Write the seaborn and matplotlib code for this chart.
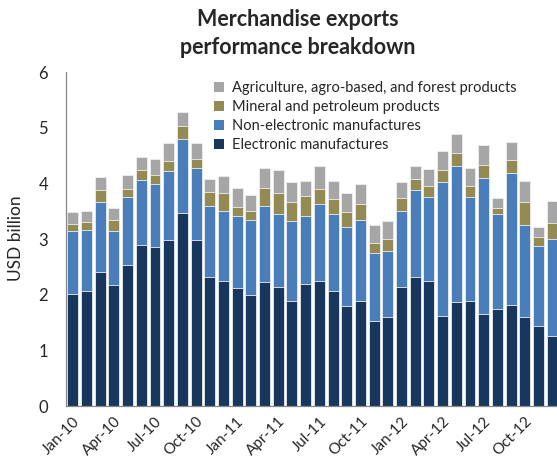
import matplotlib
matplotlib.use("Agg")
import matplotlib.pyplot as plt
from matplotlib.patches import Patch
import numpy as np
import pandas as pd
import seaborn as sns

# Monthly export values, USD billion (Jan-10 .. Dec-12)
months = pd.date_range("2010-01-01", "2012-12-01", freq="MS").strftime("%b-%y").tolist()

electronic = [2.02, 2.06, 2.41, 2.18, 2.54, 2.90, 2.86, 2.99, 3.47, 2.98, 2.32, 2.25,
              2.12, 2.00, 2.23, 2.14, 1.88, 2.20, 2.25, 2.07, 1.80, 1.89, 1.52, 1.59,
              2.14, 2.32, 2.25, 1.62, 1.86, 1.88, 1.66, 1.75, 1.82, 1.59, 1.44, 1.25]
non_electronic = [1.13, 1.11, 1.25, 0.97, 1.21, 1.16, 1.13, 1.24, 1.32, 1.29, 1.28, 1.25,
                  1.30, 1.35, 1.37, 1.31, 1.44, 1.21, 1.37, 1.38, 1.41, 1.46, 1.22, 1.19,
                  1.37, 1.56, 1.51, 2.41, 2.45, 1.87, 2.43, 1.70, 2.36, 1.67, 1.44, 1.75]
mineral = [0.12, 0.13, 0.22, 0.19, 0.15, 0.18, 0.16, 0.17, 0.24, 0.17, 0.24, 0.32,
           0.16, 0.16, 0.32, 0.38, 0.35, 0.36, 0.28, 0.26, 0.28, 0.28, 0.19, 0.22,
           0.22, 0.20, 0.19, 0.21, 0.23, 0.21, 0.24, 0.10, 0.24, 0.41, 0.16, 0.29]
agriculture = [0.21, 0.20, 0.23, 0.21, 0.25, 0.24, 0.28, 0.32, 0.26, 0.29, 0.23, 0.31,
               0.34, 0.28, 0.35, 0.41, 0.35, 0.28, 0.41, 0.34, 0.33, 0.36, 0.33, 0.33,
               0.30, 0.23, 0.30, 0.34, 0.34, 0.31, 0.36, 0.19, 0.33, 0.38, 0.17, 0.39]

series_names = ["Electronic manufactures", "Non-electronic manufactures",
                "Mineral and petroleum products", "Agriculture, agro-based, and forest products"]
colors = ["#17375E", "#4A7EBB", "#948A54", "#A6A6A6"]

df = pd.DataFrame({"month": months,
                   series_names[0]: electronic,
                   series_names[1]: non_electronic,
                   series_names[2]: mineral,
                   series_names[3]: agriculture})

sns.set_style("white")
plt.rcParams["font.family"] = ["Lato", "DejaVu Sans"]

fig = plt.figure(figsize=(5.57, 4.69), dpi=100)
ax = fig.add_axes([66 / 557, 63 / 469, 493 / 557, 334 / 469])

# Stack by drawing cumulative totals, tallest layer first
cum = df[series_names].cumsum(axis=1)
for name, col in reversed(list(zip(series_names, colors))):
    sns.barplot(x=df["month"], y=cum[name], color=col, saturation=1, width=0.8,
                edgecolor="#EEEEEE", linewidth=0.6, ax=ax, order=months)

ax.set_xlim(-0.5, len(months) - 0.5)
ax.set_ylim(0, 6)
ax.set_yticks(range(0, 7))
ax.set_xlabel("")
ax.set_ylabel("")
fig.text(16 / 557, 1 - 238 / 469, "USD billion", rotation=90, ha="center", va="center",
         fontsize=12.5)

# Labels on quarters, tick marks between months at quarter boundaries
label_pos = list(range(0, len(months), 3))
ax.set_xticks(label_pos)
ax.set_xticklabels([months[i] for i in label_pos], rotation=45, ha="right",
                   rotation_mode="anchor", fontsize=11)
ax.set_xticks([p - 0.5 for p in label_pos] + [len(months) - 0.5], minor=True)
ax.tick_params(axis="x", which="major", length=0, pad=6)
ax.tick_params(axis="x", which="minor", length=4, color="#888888", width=0.8)
ax.tick_params(axis="y", length=4, color="#888888", width=0.8, labelsize=12, pad=9)

for side in ["top", "right"]:
    ax.spines[side].set_visible(False)
for side in ["left", "bottom"]:
    ax.spines[side].set_color("#888888")
    ax.spines[side].set_linewidth(0.9)

handles = [Patch(facecolor=c, edgecolor="none") for c in reversed(colors)]
ax.legend(handles, list(reversed(series_names)), loc="upper left",
          bbox_to_anchor=(0.283, 1.0), frameon=False, fontsize=10.5,
          handlelength=0.7, handleheight=0.7, handletextpad=0.5,
          labelspacing=0.35, borderaxespad=0.2)

fig.text(297.5 / 557, 1 - 9 / 469, "Merchandise exports\nperformance breakdown",
         ha="center", va="top", fontsize=15.5, fontweight="bold", linespacing=1.4)

fig.savefig("out.png", dpi=100)
